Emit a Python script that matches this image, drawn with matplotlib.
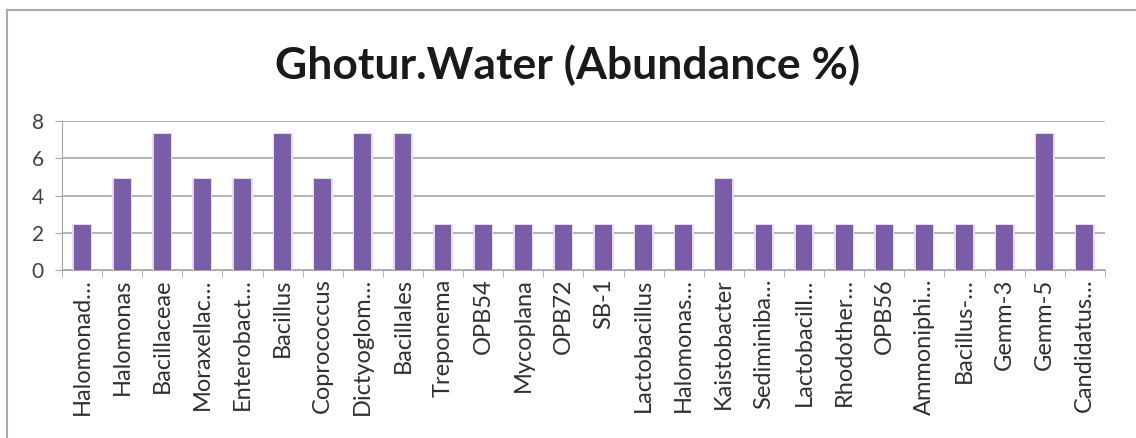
import matplotlib.pyplot as plt
import numpy as np
from matplotlib.lines import Line2D

# data
categories = ['Halomonad…', 'Halomonas', 'Bacillaceae', 'Moraxellac…', 'Enterobact…',
              'Bacillus', 'Coprococcus', 'Dictyoglom…', 'Bacillales', 'Treponema',
              'OPB54', 'Mycoplana', 'OPB72', 'SB-1', 'Lactobacillus', 'Halomonas…',
              'Kaistobacter', 'Sediminiba…', 'Lactobacill…', 'Rhodother…', 'OPB56',
              'Ammoniphi…', 'Bacillus-…', 'Gemm-3', 'Gemm-5', 'Candidatus…']
abundance = [2.44, 4.88, 7.32, 4.88, 4.88, 7.32, 4.88, 7.32, 7.32, 2.44,
             2.44, 2.44, 2.44, 2.44, 2.44, 2.44, 4.88, 2.44, 2.44, 2.44,
             2.44, 2.44, 2.44, 2.44, 7.32, 2.44]
yticks = [0, 2, 4, 6, 8]

plt.rcParams['font.family'] = ['Lato', 'DejaVu Sans']

fig = plt.figure(figsize=(11.36, 4.38), dpi=100)
# chart frame: only the top and left edges are inside the picture
fig.lines.append(Line2D([0.006, 1.0], [0.977, 0.977], transform=fig.transFigure,
                        color='#a8a8a8', linewidth=1.5))
fig.lines.append(Line2D([0.006, 0.006], [0.0, 0.977], transform=fig.transFigure,
                        color='#a8a8a8', linewidth=1.5))

ax = fig.add_axes([0.0546, 0.3836, 0.918, 0.3401])
x = np.arange(len(categories))
ax.bar(x, [v + 0.05 for v in abundance], width=0.50, color='#e4dcec', zorder=2)  # soft glow
ax.bar(x, abundance, width=0.42, color='#7a5ca8', zorder=3)

ax.set_xlim(-0.5, len(categories) - 0.5)
ax.set_ylim(0, 8)
ax.set_yticks(yticks)
ax.set_yticklabels([str(t) for t in yticks], fontsize=15, color='#404040')
ax.yaxis.grid(True, color='#a6a6a6', linewidth=1.2, zorder=0)
ax.set_axisbelow(True)

ax.set_xticks(x)
ax.set_xticklabels(categories, rotation=90, fontsize=17, color='#303030')
ax.set_xticks(np.arange(-0.5, len(categories)), minor=True)
ax.tick_params(axis='x', which='major', length=0, pad=6)
ax.tick_params(axis='x', which='minor', length=5, color='#a6a6a6')
ax.tick_params(axis='y', length=5, color='#a6a6a6', pad=8)

for s in ['top', 'right']:
    ax.spines[s].set_visible(False)
ax.spines['left'].set_color('#a6a6a6')
ax.spines['bottom'].set_color('#a6a6a6')

fig.text(0.5, 0.852, 'Ghotur.Water (Abundance %)', ha='center', va='center',
         fontsize=32, fontweight='bold', color='#1a1a1a')

fig.savefig('out.png', dpi=100)
